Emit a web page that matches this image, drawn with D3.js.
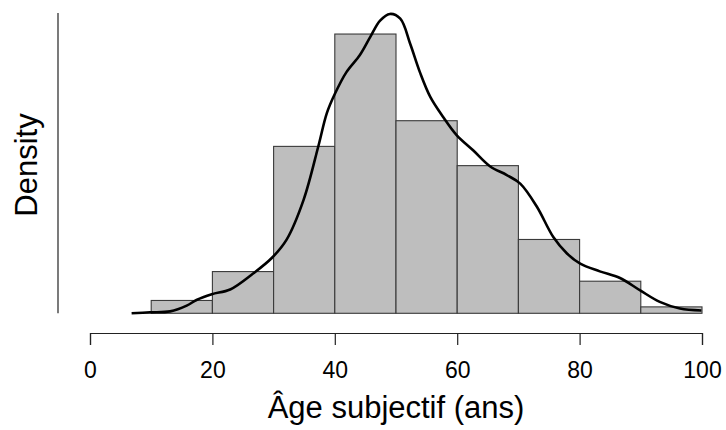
<!DOCTYPE html>
<html>
<head>
<meta charset="utf-8">
<script src="https://cdn.jsdelivr.net/npm/d3@7"></script>
<style>
  body { margin: 0; background: #fff; }
  svg text { font-family: "Liberation Sans", Arial, sans-serif; fill: #000; }
</style>
</head>
<body>
<div id="chart"></div>
<script>
(function () {
    "use strict";

    // histogram bins (ans) and counts
    var binStarts = [10, 20, 30, 40, 50, 60, 70, 80, 90];
    var binWidth = 10;
    var counts = [4, 13, 52, 87, 60, 46, 23, 10, 2];

    // kernel density curve
    var kdeAge = [6.8, 9.8, 13.1, 15.8, 17.4, 19.9, 22.9, 26.7, 29.7, 32.1, 34.9, 37.3, 38.7, 40.0,
        41.9, 44.1, 45.8, 47.4, 49.0, 50.7, 52.3, 53.9, 55.6, 57.7, 59.9, 62.6, 65.4, 68.1,
        70.3, 73.0, 75.7, 77.9, 80.1, 83.3, 86.6, 89.9, 93.1, 96.4, 99.9];
    var kdeDensity = [0, 0.0001, 0.0002, 0.0008, 0.0014, 0.0020, 0.0025, 0.0042, 0.0058, 0.0077,
        0.0119, 0.0175, 0.0210, 0.0230, 0.0253, 0.0271, 0.0290, 0.0307, 0.0314, 0.0309, 0.0283,
        0.0253, 0.0227, 0.0206, 0.0187, 0.0171, 0.0154, 0.0145, 0.0136, 0.0112, 0.0080, 0.0063,
        0.0052, 0.0044, 0.0037, 0.0024, 0.0012, 0.0005, 0.0003];

    var xTicks = [0, 20, 40, 60, 80, 100];
    var yMax = 0.0315;

    var width = 726,
        height = 430;

    var total = d3.sum(counts);

    var x = d3.scaleLinear().domain([0, 100]).range([90, 702]);
    var y = d3.scaleLinear().domain([0, yMax]).range([313.3, 13]);

    var svg = d3.select("#chart").append("svg")
        .attr("width", width)
        .attr("height", height);

    // bars
    svg.append("g").selectAll("rect")
        .data(binStarts)
        .enter().append("rect")
        .attr("x", function (d) { return x(d); })
        .attr("width", function (d) { return x(d + binWidth) - x(d); })
        .attr("y", function (d, i) { return y(counts[i] / (total * binWidth)); })
        .attr("height", function (d, i) { return y(0) - y(counts[i] / (total * binWidth)); })
        .attr("fill", "#bebebe")
        .attr("stroke", "#3a3a3a")
        .attr("stroke-width", 1.1);

    // density line
    var line = d3.line()
        .x(function (d) { return x(d); })
        .y(function (d, i) { return y(kdeDensity[i]); })
        .curve(d3.curveCatmullRom.alpha(0.5));

    svg.append("path")
        .datum(kdeAge)
        .attr("d", line)
        .attr("fill", "none")
        .attr("stroke", "#000")
        .attr("stroke-width", 2.6)
        .attr("stroke-linejoin", "round");

    // x axis
    var xAxis = svg.append("g")
        .attr("transform", "translate(0,333)")
        .call(d3.axisBottom(x).tickValues(xTicks).tickSize(12).tickPadding(17).tickFormat(d3.format("d")));
    xAxis.select(".domain").attr("stroke", "#222").attr("stroke-width", 1.2);
    xAxis.selectAll(".tick line").attr("stroke", "#222").attr("stroke-width", 1.2);
    xAxis.selectAll("text")
        .style("font-family", "'Liberation Sans', Arial, sans-serif")
        .style("font-size", "23px")
        .attr("fill", "#000");

    // y axis line (no ticks)
    svg.append("line")
        .attr("x1", 58).attr("x2", 58)
        .attr("y1", y(0)).attr("y2", y(yMax))
        .attr("stroke", "#222")
        .attr("stroke-width", 1.2);

    // axis titles
    svg.append("text")
        .attr("x", x(50))
        .attr("y", 418)
        .attr("text-anchor", "middle")
        .style("font-size", "31px")
        .text("Âge subjectif (ans)");

    svg.append("text")
        .attr("transform", "translate(37,165)rotate(-90)")
        .attr("text-anchor", "middle")
        .style("font-size", "31px")
        .text("Density");
})();
</script>
</body>
</html>
